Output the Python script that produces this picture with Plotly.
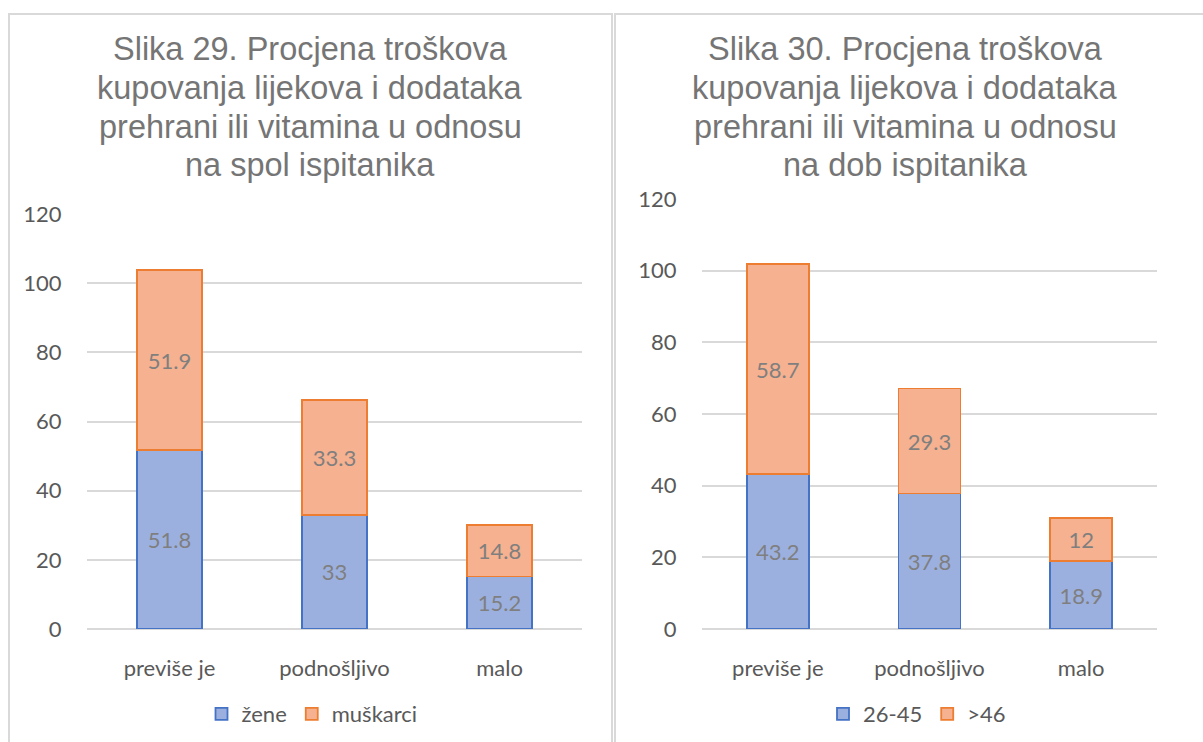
import plotly.graph_objects as go

categories = ["previše je", "podnošljivo", "malo"]

# Slika 29 - spol
zene = [51.8, 33, 15.2]
muskarci = [51.9, 33.3, 14.8]

# Slika 30 - dob
dob_26_45 = [43.2, 37.8, 18.9]
dob_46 = [58.7, 29.3, 12]

title_1 = ["Slika 29. Procjena troškova", "kupovanja lijekova i dodataka",
           "prehrani ili vitamina u odnosu", "na spol ispitanika"]
title_2 = ["Slika 30. Procjena troškova", "kupovanja lijekova i dodataka",
           "prehrani ili vitamina u odnosu", "na dob ispitanika"]

W, H = 1203, 742
BLUE_FILL, BLUE_LINE = "#9cb0df", "#4472c4"
ORANGE_FILL, ORANGE_LINE = "#f5b190", "#ed7d31"
GRID = "#d9d9d9"
TICK = "#595959"
LABEL = "#7f7f7f"
TFONT = "Lato"


def px(x):
    return x / W


def py(y):
    return 1 - y / H


fig = go.Figure()

label_font = dict(family=TFONT, size=22, color=LABEL)


def bar(x, y, name, fill, line, xa, ya, leg, w):
    return go.Bar(x=x, y=y, name=name, xaxis=xa, yaxis=ya,
                  marker=dict(color=fill, line=dict(color=line, width=1.8)),
                  text=y, textposition="inside", insidetextanchor="middle",
                  textfont=label_font, legend=leg, width=w)


fig.add_trace(bar(categories, zene, "žene", BLUE_FILL, BLUE_LINE, "x", "y", "legend", 0.39))
fig.add_trace(bar(categories, muskarci, "muškarci", ORANGE_FILL, ORANGE_LINE, "x", "y", "legend", 0.39))
fig.add_trace(bar(categories, dob_26_45, "26-45", BLUE_FILL, BLUE_LINE, "x2", "y2", "legend2", 0.41))
fig.add_trace(bar(categories, dob_46, ">46", ORANGE_FILL, ORANGE_LINE, "x2", "y2", "legend2", 0.41))

xcommon = dict(showgrid=False, showline=False, zeroline=False, automargin=False,
               ticks="outside", ticklen=20, tickcolor="rgba(0,0,0,0)",
               tickfont=dict(family=TFONT, size=22, color=TICK))
ycommon = dict(range=[0, 120], dtick=20, showgrid=True, gridcolor=GRID, gridwidth=1.5,
               zeroline=True, zerolinecolor=GRID, zerolinewidth=1.5, showline=False,
               automargin=False, ticks="outside", ticklen=20, tickcolor="rgba(0,0,0,0)",
               tickfont=dict(family=TFONT, size=22, color=TICK))

title_font = dict(family="Liberation Sans", size=32.5, color="#757575")

legend_common = dict(orientation="h", yanchor="middle", xanchor="center",
                     font=dict(family=TFONT, size=22, color=TICK),
                     bgcolor="rgba(0,0,0,0)", itemwidth=30, traceorder="normal")

annotations = []
line_y = [49, 88, 127, 165]
for cx, lines in ((310, title_1), (905, title_2)):
    for ly, txt in zip(line_y, lines):
        annotations.append(dict(text=txt, xref="paper", yref="paper", x=px(cx), y=py(ly),
                                xanchor="center", yanchor="middle", showarrow=False,
                                font=title_font))

fig.update_layout(
    width=W, height=H,
    margin=dict(l=0, r=0, t=0, b=0, autoexpand=False),
    paper_bgcolor="white", plot_bgcolor="white",
    barmode="stack",
    xaxis=dict(domain=[px(87), px(582)], anchor="y", **xcommon),
    yaxis=dict(domain=[py(629), py(214)], anchor="x", **ycommon),
    xaxis2=dict(domain=[px(702), px(1157)], anchor="y2", **xcommon),
    yaxis2=dict(domain=[py(629), py(199)], anchor="x2", **ycommon),
    legend=dict(x=px(312), y=py(714), **legend_common),
    legend2=dict(x=px(917), y=py(714), **legend_common),
    shapes=[
        dict(type="rect", xref="paper", yref="paper", x0=px(9), x1=px(612),
             y0=-0.05, y1=py(14), line=dict(color=GRID, width=2)),
        dict(type="rect", xref="paper", yref="paper", x0=px(615), x1=1.05,
             y0=-0.05, y1=py(14), line=dict(color=GRID, width=2)),
    ],
    annotations=annotations,
)

fig.write_html("out.html", config={"displayModeBar": False},
               post_script="document.body.style.margin='0';")
